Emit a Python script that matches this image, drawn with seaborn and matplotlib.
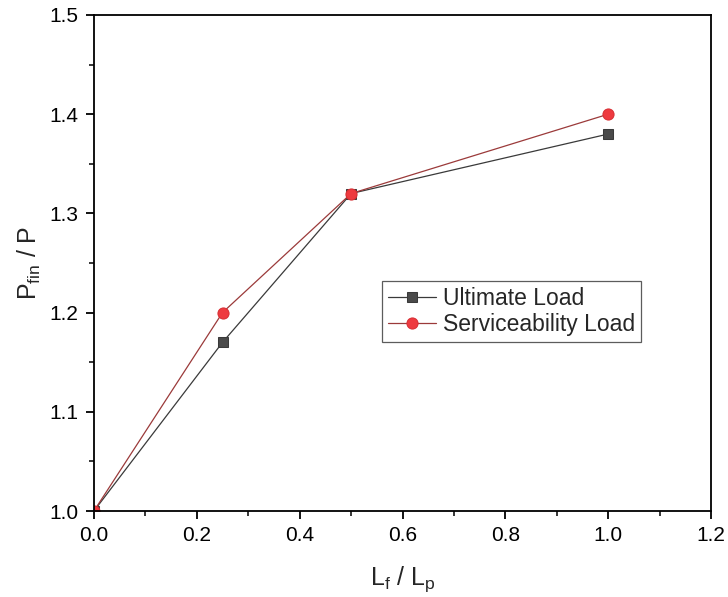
import matplotlib
matplotlib.use("Agg")
import matplotlib.pyplot as plt
import seaborn as sns
import pandas as pd
from matplotlib.ticker import MultipleLocator

x_vals = [0.0, 0.25, 0.5, 1.0]
ultimate = [1.0, 1.17, 1.32, 1.38]
service = [1.0, 1.2, 1.32, 1.4]

sns.set_style("ticks")
plt.rcParams['font.family'] = ['Liberation Sans', 'DejaVu Sans']

fig = plt.figure(figsize=(7.28, 5.97), dpi=100)
ax = fig.add_axes([0.129, 0.144, 0.848, 0.831])

df_u = pd.DataFrame({"x": x_vals, "y": ultimate})
df_s = pd.DataFrame({"x": x_vals, "y": service})

sns.lineplot(data=df_u, x="x", y="y", ax=ax, color="#3a3a3a", lw=0.9,
             marker="s", markersize=7, markerfacecolor="#4a4a4a",
             markeredgecolor="#3a3a3a", label="Ultimate Load")
sns.lineplot(data=df_s, x="x", y="y", ax=ax, color="#9b3a3a", lw=0.9,
             marker="o", markersize=8, markerfacecolor="#ee3a3f",
             markeredgecolor="#d83035", label="Serviceability Load")

ax.set_xlim(0, 1.2)
ax.set_ylim(1.0, 1.5)
ax.xaxis.set_major_locator(MultipleLocator(0.2))
ax.xaxis.set_minor_locator(MultipleLocator(0.1))
ax.yaxis.set_major_locator(MultipleLocator(0.1))
ax.yaxis.set_minor_locator(MultipleLocator(0.05))
ax.set_xticklabels([f"{v:.1f}" for v in ax.get_xticks()])
ax.tick_params(axis="both", which="major", direction="out", length=6, width=1.3,
               labelsize=15, colors="black", pad=5)
ax.tick_params(axis="both", which="minor", direction="out", length=3.5, width=1.3)
ax.tick_params(top=False, right=False, which="both")
for sp in ax.spines.values():
    sp.set_visible(True)
    sp.set_linewidth(1.3)
    sp.set_color("black")

ax.set_xlabel(r"L$_\mathregular{f}$ / L$_\mathregular{p}$", fontsize=18, labelpad=14)
ax.set_ylabel(r"P$_\mathregular{fin}$ / P", fontsize=18, labelpad=5)

leg = ax.legend(loc="upper left", bbox_to_anchor=(0.467, 0.464), fontsize=16.5,
                frameon=True, fancybox=False, edgecolor="#333333",
                borderpad=0.25, handlelength=2.1, handletextpad=0.3,
                labelspacing=0.15, borderaxespad=0)
leg.get_frame().set_linewidth(0.9)

fig.savefig("out.png", dpi=100)
